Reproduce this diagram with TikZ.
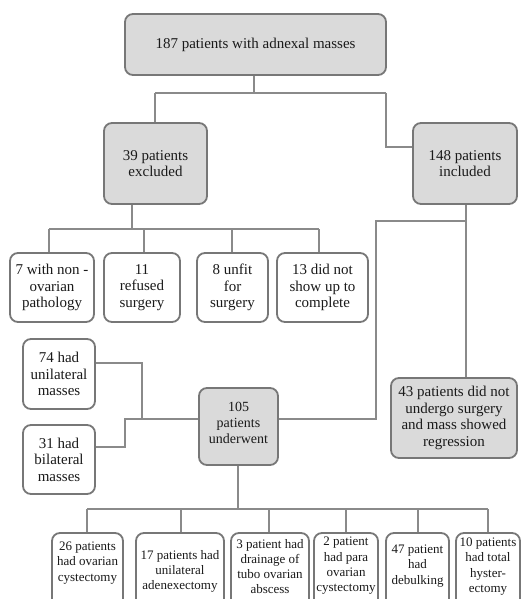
\documentclass[tikz,border=0pt]{standalone}
\usepackage{fontspec}
\setmainfont{Liberation Serif}
\definecolor{boxline}{HTML}{777777}
\definecolor{boxfill}{HTML}{DADADA}
\definecolor{conn}{HTML}{8A8A8A}
\definecolor{ink}{HTML}{1A1A1A}
\begin{document}
\begin{tikzpicture}[x=1pt,y=-1pt,
  basebox/.style={draw=boxline,line width=1.8pt,rounded corners=8pt,inner sep=0pt,align=center,text=ink,font=\fontsize{15}{16.5}\selectfont},
  gbox/.style={basebox,fill=boxfill},
  wbox/.style={basebox,fill=white},
  txt/.style={inner sep=0pt,align=center,text=ink,font=\fontsize{13}{15.3}\selectfont},
  conn/.style={draw=conn,line width=1.1pt}]
\useasboundingbox (0,0) rectangle (526,599);
\clip (0,0) rectangle (526,599);
% top level
\node[gbox,minimum width=261pt,minimum height=61pt] (top) at (255.5,44.5) {187 patients with adnexal masses};
\node[gbox,minimum width=103pt,minimum height=81pt] (exc) at (155.5,163.5) {39 patients\\excluded};
\node[gbox,minimum width=104pt,minimum height=81pt] (inc) at (465,163.5) {148 patients\\included};
% excluded reasons
\node[wbox,minimum width=84pt,minimum height=69pt] (e1) at (52,287.5) {7 with non -\\ovarian\\pathology};
\node[wbox,minimum width=76pt,minimum height=69pt] (e2) at (142,287.5) {11\\refused\\surgery};
\node[wbox,minimum width=71pt,minimum height=69pt] (e3) at (232.5,287.5) {8 unfit\\for\\surgery};
\node[wbox,minimum width=91pt,minimum height=69pt] (e4) at (322.5,287.5) {13 did not\\show up to\\complete};
% middle
\node[wbox,minimum width=72pt,minimum height=70pt] (u74) at (59,374) {74 had\\unilateral\\masses};
\node[wbox,minimum width=72pt,minimum height=69pt] (b31) at (59,459.5) {31 had\\bilateral\\masses};
\node[gbox,minimum width=79pt,minimum height=77pt] (und) at (238.5,426.5) {};
\node[txt,font=\fontsize{14}{16}\selectfont] (undt) at (238.5,423) {105\\patients\\underwent};
\node[gbox,minimum width=126pt,minimum height=80pt] (reg) at (454,418) {43 patients did not\\undergo surgery\\and mass showed\\regression};
% bottom row boxes (cut by the picture edge)
\node[wbox,minimum width=71pt,minimum height=82pt] (s1) at (87.5,574) {};
\node[wbox,minimum width=88pt,minimum height=82pt] (s2) at (180,574) {};
\node[wbox,minimum width=78pt,minimum height=82pt] (s3) at (270,574) {};
\node[wbox,minimum width=64pt,minimum height=82pt] (s4) at (346,574) {};
\node[wbox,minimum width=63pt,minimum height=82pt] (s5) at (417.5,574) {};
\node[wbox,minimum width=64pt,minimum height=82pt] (s6) at (488,574) {};
\node[txt] (t1) at (87.5,563) {26 patients\\had ovarian\\cystectomy};
\node[txt] (t2) at (180,571.5) {17 patients had\\unilateral\\adenexectomy};
\node[txt] (t3) at (270,566.5) {3 patient had\\drainage of\\tubo ovarian\\abscess};
\node[txt] (t4) at (346,566) {2 patient\\had para\\ovarian\\cystectomy};
\node[txt] (t5) at (417.5,566) {47 patient\\had\\debulking};
\node[txt] (t6) at (488,566.5) {10 patients\\had total\\hyster-\\ectomy};
% connectors
\coordinate (j1) at (254,93);
\draw[conn] (top.south -| j1) -- (j1);
\draw[conn] (155,93) -- (386,93);
\draw[conn] (155,93) -- (exc.north -| 155,0);
\draw[conn] (386,93) -- (386,147) -- (inc.west |- 0,147);
\coordinate (j2) at (132,229);
\draw[conn] (exc.south -| j2) -- (j2);
\draw[conn] (49,229) -- (319,229);
\draw[conn] (49,229) -- (e1.north -| 49,0);
\draw[conn] (144,229) -- (e2.north -| 144,0);
\draw[conn] (232,229) -- (e3.north -| 232,0);
\draw[conn] (319,229) -- (e4.north -| 319,0);
\draw[conn] (inc.south -| 466,0) -- (reg.north -| 466,0);
\draw[conn] (466,221) -- (376,221) -- (376,419) -- (und.east |- 0,419);
\draw[conn] (u74.east |- 0,363) -- (142,363) -- (142,419);
\draw[conn] (b31.east |- 0,447) -- (125,447) -- (125,419) -- (und.west |- 0,419);
\coordinate (j3) at (238,509);
\draw[conn] (und.south -| j3) -- (j3);
\draw[conn] (87,509) -- (488,509);
\draw[conn] (87,509) -- (s1.north -| 87,0);
\draw[conn] (181,509) -- (s2.north -| 181,0);
\draw[conn] (269,509) -- (s3.north -| 269,0);
\draw[conn] (346,509) -- (s4.north -| 346,0);
\draw[conn] (418,509) -- (s5.north -| 418,0);
\draw[conn] (488,509) -- (s6.north -| 488,0);
\end{tikzpicture}
\end{document}
